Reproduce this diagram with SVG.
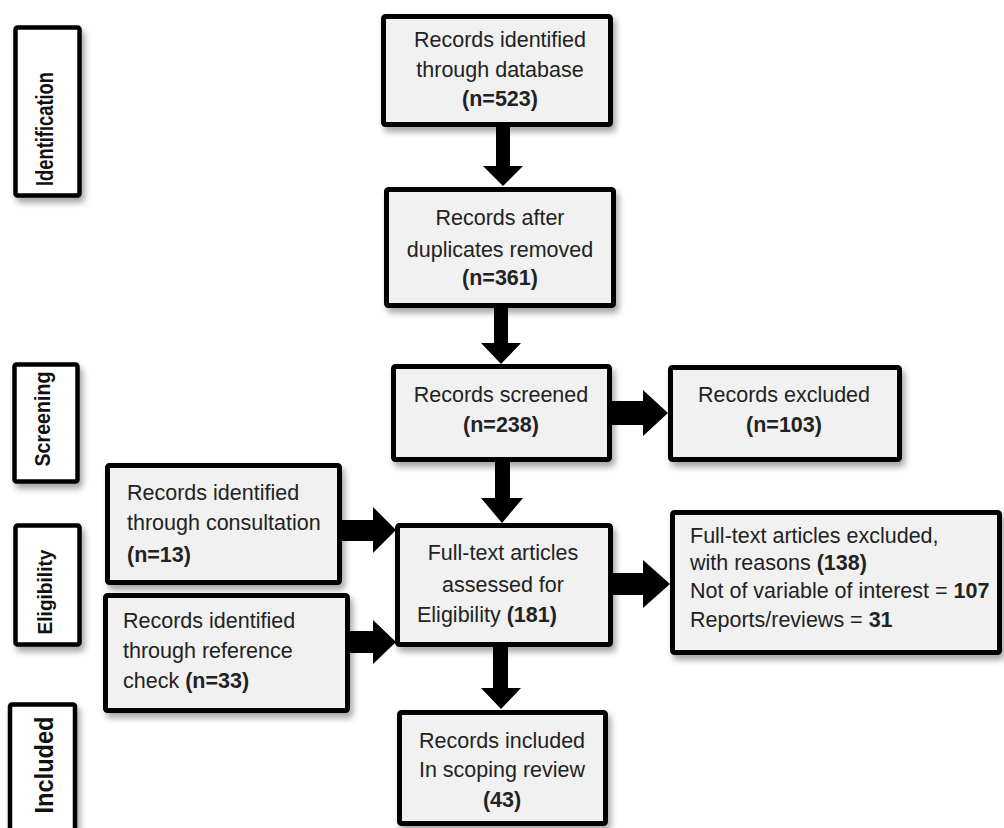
<svg xmlns="http://www.w3.org/2000/svg" width="1004" height="828" viewBox="0 0 1004 828">
<defs>
<filter id="sh" x="-10%" y="-10%" width="130%" height="130%">
<feDropShadow dx="3" dy="5" stdDeviation="3" flood-color="#000" flood-opacity="0.35"/>
</filter>
</defs>
<style>
.box{fill:#f1f1f1;stroke:#000;stroke-width:5;filter:url(#sh)}
.lab{fill:#fff;stroke:#000;stroke-width:4.5;filter:url(#sh)}
.t{font-family:"Liberation Sans",Arial,sans-serif;font-size:21.5px;fill:#222}
.c{text-anchor:middle}
.b{font-weight:bold}
.st{font-family:"Liberation Sans",Arial,sans-serif;font-weight:bold;fill:#111;text-anchor:middle}
.arr{fill:#000}
</style>
<rect width="1004" height="828" fill="#fff"/>

<g id="stage-identification">
<rect class="lab" x="15.5" y="27.5" width="64" height="168" rx="2"/>
<text class="st" font-size="23" textLength="114" lengthAdjust="spacingAndGlyphs" transform="translate(53,129) rotate(-90)">Identification</text>
</g>
<g id="stage-screening">
<rect class="lab" x="14.5" y="364.5" width="63" height="117" rx="2"/>
<text class="st" font-size="22" textLength="95" lengthAdjust="spacingAndGlyphs" transform="translate(50,419) rotate(-90)">Screening</text>
</g>
<g id="stage-eligibility">
<rect class="lab" x="15.5" y="525.5" width="64" height="119" rx="2"/>
<text class="st" font-size="21" textLength="85" lengthAdjust="spacingAndGlyphs" transform="translate(52,592) rotate(-90)">Eligibility</text>
</g>
<g id="stage-included">
<rect class="lab" x="10" y="704.5" width="65" height="140" rx="2"/>
<text class="st" font-size="25" textLength="97" lengthAdjust="spacingAndGlyphs" transform="translate(53,765) rotate(-90)">Included</text>
</g>

<g id="connectors">
<polygon class="arr" points="496,127 510,127 510,166 523,166 503,186 483,166 496,166"/>
<polygon class="arr" points="494,308 508,308 508,343 521,343 501,364 481,343 494,343"/>
<polygon class="arr" points="495,462 510,462 510,498 523,498 502,523 481,498 495,498"/>
<polygon class="arr" points="493,647 508,647 508,688 521,688 501,709 481,688 493,688"/>
<polygon class="arr" points="612,401 643,401 643,390 668,413 643,436 643,425 612,425"/>
<polygon class="arr" points="613,573 643,573 643,560 670,584 643,608 643,595 613,595"/>
<polygon class="arr" points="342,520 373,520 373,507 396,530 373,553 373,541 342,541"/>
<polygon class="arr" points="350,631 373,631 373,620 396,642 373,664 373,653 350,653"/>
</g>

<g id="n-database">
<rect class="box" x="383.5" y="16.5" width="227" height="108" rx="2"/>
<text class="t c" x="500" y="47">Records identified</text>
<text class="t c" x="500" y="77">through database</text>
<text class="t c b" x="500" y="106">(n=523)</text>
</g>
<g id="n-duplicates">
<rect class="box" x="386.5" y="189.5" width="227" height="116" rx="2"/>
<text class="t c" x="500" y="225">Records after</text>
<text class="t c" x="500" y="257">duplicates removed</text>
<text class="t c b" x="500" y="285">(n=361)</text>
</g>
<g id="n-screened">
<rect class="box" x="393.5" y="366.5" width="216" height="93" rx="2"/>
<text class="t c" x="501" y="402">Records screened</text>
<text class="t c b" x="501" y="432">(n=238)</text>
</g>
<g id="n-excluded">
<rect class="box" x="670.5" y="367.5" width="229" height="92" rx="2"/>
<text class="t c" x="784" y="402">Records excluded</text>
<text class="t c b" x="784" y="432">(n=103)</text>
</g>
<g id="n-fulltext">
<rect class="box" x="397.5" y="525.5" width="213" height="119" rx="2"/>
<text class="t c" x="503" y="560">Full-text articles</text>
<text class="t c" x="503" y="592">assessed for</text>
<text class="t" x="417" y="622">Eligibility <tspan class="b">(181)</tspan></text>
</g>
<g id="n-ft-excluded">
<rect class="box" x="672.5" y="512.5" width="327" height="140" rx="2"/>
<text class="t" x="690" y="543">Full-text articles excluded,</text>
<text class="t" x="690" y="570">with reasons <tspan class="b">(138)</tspan></text>
<text class="t" x="690" y="598">Not of variable of interest = <tspan class="b">107</tspan></text>
<text class="t" x="690" y="627">Reports/reviews = <tspan class="b">31</tspan></text>
</g>
<g id="n-consultation">
<rect class="box" x="107.5" y="465.5" width="232" height="117" rx="2"/>
<text class="t" x="127" y="500">Records identified</text>
<text class="t" x="127" y="530">through consultation</text>
<text class="t b" x="127" y="562">(n=13)</text>
</g>
<g id="n-reference">
<rect class="box" x="105.5" y="595.5" width="242" height="115" rx="2"/>
<text class="t" x="123" y="628">Records identified</text>
<text class="t" x="123" y="658">through reference</text>
<text class="t" x="123" y="688">check <tspan class="b">(n=33)</tspan></text>
</g>
<g id="n-included">
<rect class="box" x="399.5" y="712.5" width="206" height="111" rx="2"/>
<text class="t c" x="502" y="748">Records included</text>
<text class="t c" x="502" y="777">In scoping review</text>
<text class="t c b" x="502" y="807">(43)</text>
</g>
</svg>
